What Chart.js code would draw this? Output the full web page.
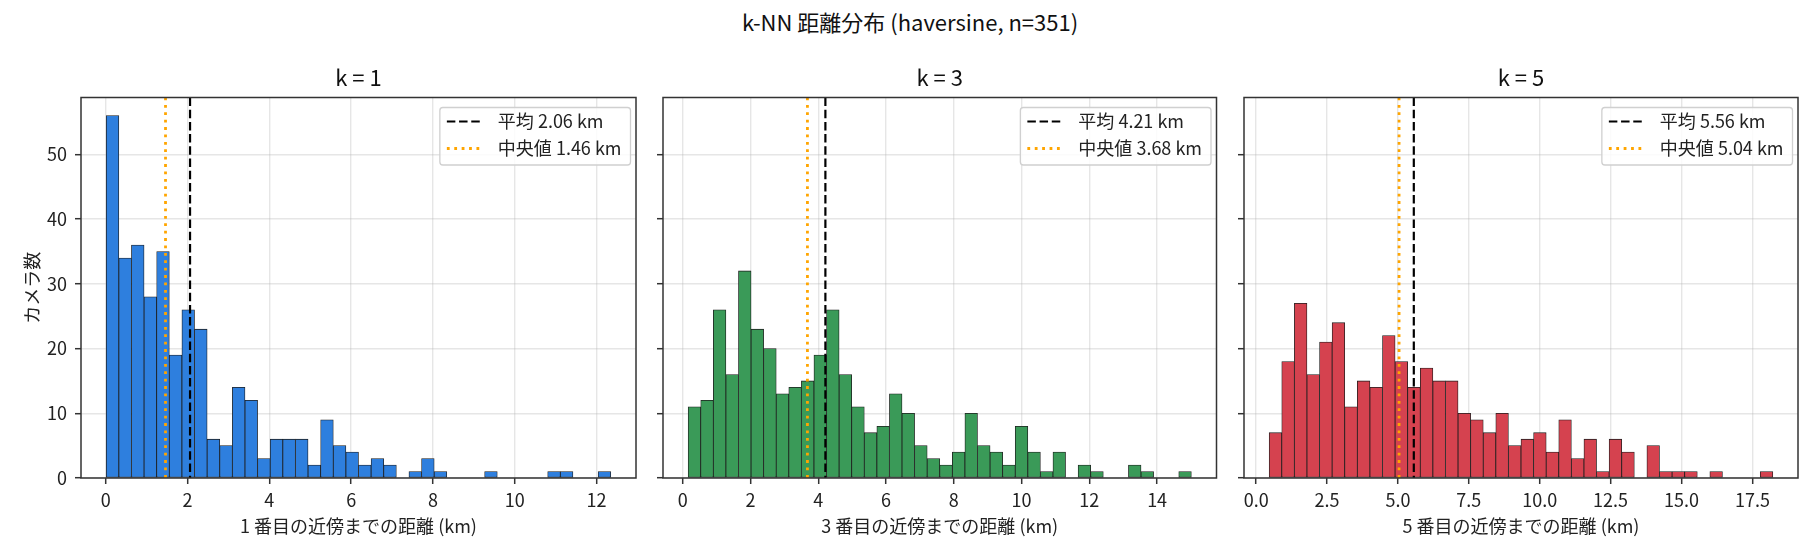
<!DOCTYPE html>
<html lang="ja">
<head>
<meta charset="utf-8">
<script src="https://cdn.jsdelivr.net/npm/chart.js@4.4.1/dist/chart.umd.min.js"></script>
<style>
  html, body { margin: 0; padding: 0; background: #fff; }
  #page { position: relative; width: 1820px; height: 560px; overflow: hidden; }
  #page canvas { position: absolute; left: 0; top: 0; }
  #suptitle { position: absolute; left: 0; top: 7px; width: 1820px; text-align: center;
              font: 22px "Noto Sans CJK JP"; line-height: 28px; color: #111; }
</style>
</head>
<body>
<div id="page">
  <div id="suptitle">k-NN 距離分布 (haversine, n=351)</div>
  <canvas id="k1" width="1820" height="560"></canvas>
  <canvas id="k3" width="1820" height="560"></canvas>
  <canvas id="k5" width="1820" height="560"></canvas>
</div>
<script>
// histogram counts (40 bins each)
const k1Counts = [56, 34, 36, 28, 35, 19, 26, 23, 6, 5, 14, 12, 3, 6, 6, 6, 2, 9, 5, 4,
                  2, 3, 2, 0, 1, 3, 1, 0, 0, 0, 1, 0, 0, 0, 0, 1, 1, 0, 0, 1];
const k3Counts = [11, 12, 26, 16, 32, 23, 20, 13, 14, 15, 19, 26, 16, 11, 7, 8, 13, 10, 5, 3,
                  2, 4, 10, 5, 4, 2, 8, 4, 1, 4, 0, 2, 1, 0, 0, 2, 1, 0, 0, 1];
const k5Counts = [7, 18, 27, 16, 21, 24, 11, 15, 14, 22, 18, 14, 17, 15, 15, 10, 9, 7, 10, 5,
                  6, 7, 4, 9, 3, 6, 1, 6, 4, 0, 5, 1, 1, 1, 0, 1, 0, 0, 0, 1];

// bin range [first edge, last edge] in km
const k1Range = [0.01, 12.35];
const k3Range = [0.16, 15.01];
const k5Range = [0.46, 18.22];

// [mean, median] in km
const k1Stats = [2.06, 1.46];
const k3Stats = [4.21, 3.68];
const k5Stats = [5.56, 5.04];

const k1Ticks = [0, 2, 4, 6, 8, 10, 12];
const k3Ticks = [0, 2, 4, 6, 8, 10, 12, 14];
const k5Ticks = [0, 2.5, 5, 7.5, 10, 12.5, 15, 17.5];
const yTicks = [0, 10, 20, 30, 40, 50];
const yMax = 58.8;

Chart.defaults.font.family = '"Noto Sans CJK JP", "Noto Sans", sans-serif';
Chart.defaults.color = '#222';

// mean/median lines, legend box and axes frame
const overlay = {
  id: 'overlay',
  afterDraw(chart, args, opts) {
    const ctx = chart.ctx, a = chart.chartArea, x = chart.scales.x;
    const items = [
      { v: opts.stats[0], color: '#000', width: 2.2, dash: [8.5, 3.7], text: '平均 ' + opts.stats[0].toFixed(2) + ' km' },
      { v: opts.stats[1], color: '#FFA500', width: 2.8, dash: [2.8, 4.6], text: '中央値 ' + opts.stats[1].toFixed(2) + ' km' }
    ];
    ctx.save();
    ctx.beginPath();
    ctx.rect(a.left, a.top, a.width, a.height);
    ctx.clip();
    items.slice().reverse().forEach(it => {
      const px = x.getPixelForValue(it.v);
      ctx.beginPath();
      ctx.setLineDash(it.dash);
      ctx.lineWidth = it.width;
      ctx.strokeStyle = it.color;
      ctx.moveTo(px, a.top);
      ctx.lineTo(px, a.bottom);
      ctx.stroke();
    });
    ctx.restore();

    // legend
    ctx.save();
    ctx.font = '18px "Noto Sans CJK JP"';
    const tw = Math.max(...items.map(it => ctx.measureText(it.text).width));
    const bw = 7 + 34 + 17 + tw + 9, bh = 57.5;
    const bx = a.right - 5.5 - bw, by = a.top + 10;
    ctx.beginPath();
    ctx.roundRect(bx, by, bw, bh, 3);
    ctx.fillStyle = 'rgba(255,255,255,0.85)';
    ctx.fill();
    ctx.lineWidth = 1.3;
    ctx.strokeStyle = '#d0d0d0';
    ctx.stroke();
    items.forEach((it, i) => {
      const cy = by + 14 + i * 27;
      ctx.beginPath();
      ctx.setLineDash(it.dash);
      ctx.lineWidth = it.width;
      ctx.strokeStyle = it.color;
      ctx.moveTo(bx + 7, cy);
      ctx.lineTo(bx + 41, cy);
      ctx.stroke();
      ctx.setLineDash([]);
      ctx.fillStyle = '#222';
      ctx.textBaseline = 'middle';
      ctx.textAlign = 'left';
      ctx.fillText(it.text, bx + 58, cy);
    });
    // frame
    ctx.setLineDash([]);
    ctx.lineWidth = 1.5;
    ctx.strokeStyle = '#333';
    ctx.strokeRect(a.left, a.top, a.width, a.height);
    ctx.restore();
  }
};

function histChart(id, counts, range, stats, xTicks, title, xLabel, color, axLeft, axRight, first) {
  const bw = (range[1] - range[0]) / counts.length;
  const data = counts.map((c, i) => ({ x: range[0] + bw * (i + 0.5), y: c }));
  const margin = (range[1] - range[0]) * 0.05;
  const yWidth = first ? axLeft : 12;
  const gridColor = 'rgba(176,176,176,0.32)';
  return new Chart(document.getElementById(id), {
    type: 'bar',
    data: {
      datasets: [{
        data: data,
        backgroundColor: color,
        borderColor: '#1e1e1e',
        borderWidth: 0.8,
        borderSkipped: false,
        barPercentage: 1,
        categoryPercentage: 1
      }]
    },
    options: {
      responsive: false,
      animation: false,
      layout: { padding: { left: axLeft - yWidth, right: 1820 - axRight, top: 64.8, bottom: 0 } },
      plugins: {
        legend: { display: false },
        tooltip: { enabled: false },
        title: {
          display: true, text: title, fullSize: false, color: '#111',
          font: { size: 22, weight: 'normal', lineHeight: 1.2 },
          padding: { top: 0, bottom: 6.3 }
        },
        overlay: { stats: stats }
      },
      scales: {
        x: {
          type: 'linear', z: 1, offset: false,
          min: range[0] - margin, max: range[1] + margin,
          afterBuildTicks: s => { s.ticks = xTicks.map(v => ({ value: v })); },
          afterFit: s => { s.height = 82; },
          ticks: {
            autoSkip: false, maxRotation: 0, padding: 5,
            font: { size: 18 },
            callback: v => (xTicks.some(t => t % 1 !== 0) ? v.toFixed(1) : String(v))
          },
          grid: { offset: false, color: gridColor, lineWidth: 1.4, tickLength: 6, tickColor: '#333', tickWidth: 1.5 },
          border: { display: false },
          title: { display: true, text: xLabel, font: { size: 18 }, padding: { top: 0, bottom: 23.2 }, color: '#222' }
        },
        y: {
          type: 'linear', z: 1,
          min: 0, max: yMax,
          afterBuildTicks: s => { s.ticks = yTicks.map(v => ({ value: v })); },
          afterFit: s => { s.width = yWidth; },
          ticks: {
            padding: 8, font: { size: 18 },
            callback: v => (first ? String(v) : '')
          },
          grid: { color: gridColor, lineWidth: 1.4, tickLength: 6, tickColor: '#333', tickWidth: 1.5 },
          border: { display: false },
          title: { display: first, text: 'カメラ数', font: { size: 18 }, padding: { top: 21.7 }, color: '#222' }
        }
      }
    },
    plugins: [overlay]
  });
}

histChart('k1', k1Counts, k1Range, k1Stats, k1Ticks, 'k = 1', '1 番目の近傍までの距離 (km)', '#2E7FDE', 81, 636, true);
histChart('k3', k3Counts, k3Range, k3Stats, k3Ticks, 'k = 3', '3 番目の近傍までの距離 (km)', '#3A9A58', 663, 1216.5, false);
histChart('k5', k5Counts, k5Range, k5Stats, k5Ticks, 'k = 5', '5 番目の近傍までの距離 (km)', '#D5424F', 1244, 1798, false);
</script>
</body>
</html>
